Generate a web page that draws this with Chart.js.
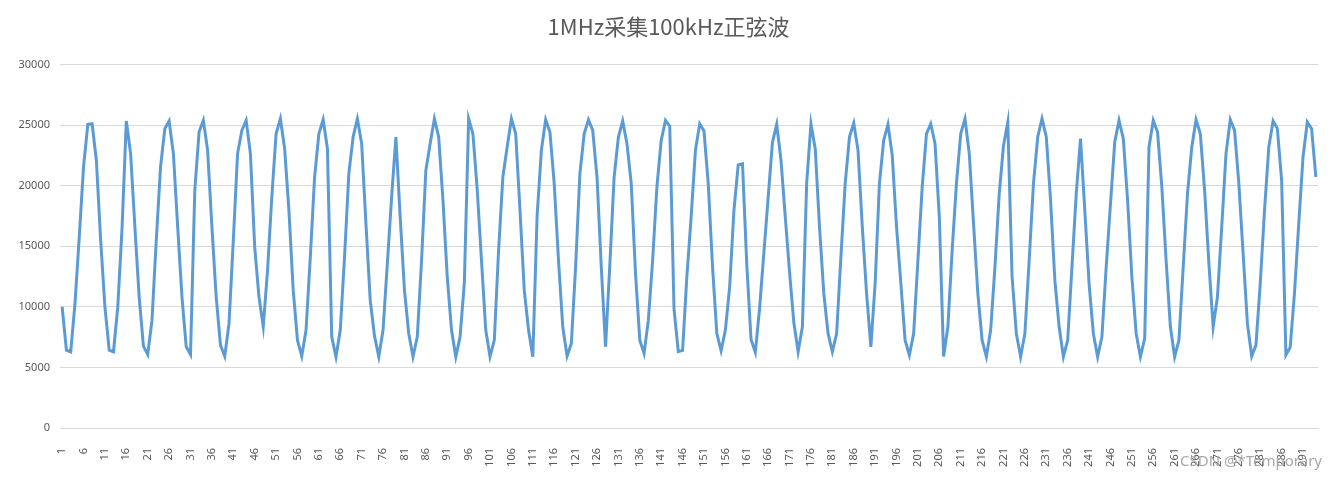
<!DOCTYPE html>
<html>
<head>
<meta charset="utf-8">
<script src="https://cdn.jsdelivr.net/npm/chart.js@4.4.1/dist/chart.umd.min.js"></script>
<style>
  html, body { margin: 0; padding: 0; background: #fff; }
  #wrap { position: relative; width: 1337px; height: 477px; }
  #watermark { position: absolute; right: 15px; top: 450px; font: 15px "Noto Sans", sans-serif; color: #a8a8a8; }
</style>
</head>
<body>
<div id="wrap">
  <canvas id="chart" width="1337" height="477"></canvas>
  <div id="watermark">CSDN @*Temporary</div>
</div>
<script>
// samples
const sampleValues = [
  10000, 6430, 6290, 10270, 15770, 21540, 25050, 25100, 22090, 15490,
  10000, 6430, 6290, 10000, 16500, 25330, 22640, 16590, 10820, 6760,
  6070, 8900, 15490, 21540, 24700, 25330, 22640, 16590, 10820, 6700,
  6070, 19610, 24420, 25380, 22910, 16590, 10820, 6840, 5930, 8630,
  15490, 22640, 24560, 25380, 22640, 14940, 10820, 8350, 13000, 19060,
  24280, 25520, 23050, 17960, 11370, 7250, 5930, 8080, 14120, 20710,
  24280, 25440, 23050, 7530, 5880, 8080, 14120, 20990, 24010, 25520,
  23460, 16870, 10550, 7600, 5880, 8080, 13570, 19060, 24000, 17420,
  11370, 7800, 5880, 7530, 13840, 21260, 23460, 25520, 24010, 18790,
  12470, 8080, 5880, 7530, 12000, 25520, 24280, 19700, 13840, 8080,
  5880, 7250, 14670, 20710, 23180, 25520, 24280, 17960, 11370, 8080,
  5880, 17500, 22910, 25440, 24420, 20160, 13840, 8350, 5930, 6980,
  13300, 20990, 24280, 25440, 24560, 20710, 13300, 6700, 13500, 20710,
  24010, 25330, 23460, 20160, 12750, 7250, 6150, 8900, 13840, 19890,
  23730, 25380, 24900, 9800, 6300, 6400, 12500, 17420, 22910, 25100,
  24500, 20160, 13300, 7800, 6370, 8080, 11650, 17960, 21700, 21800,
  13500, 7300, 6240, 9900, 14470, 19000, 23570, 25050, 22090, 17420,
  12860, 8700, 6290, 8350, 20220, 25100, 23050, 16590, 11100, 7800,
  6290, 7800, 14120, 20160, 24010, 25160, 22910, 16590, 11100, 6700,
  11920, 20160, 23730, 25050, 22500, 16590, 12000, 7250, 6020, 7800,
  13840, 19890, 24280, 25100, 23460, 17420, 5900, 8350, 14670, 20160,
  24280, 25520, 22640, 16870, 11100, 7250, 5880, 8080, 13300, 19340,
  23300, 25240, 12500, 7800, 5880, 7800, 13840, 20160, 24010, 25520,
  24010, 18790, 12200, 8350, 5880, 7250, 13300, 19340, 23870, 17960,
  11920, 7800, 5880, 7530, 13300, 18500, 23600, 25380, 23870, 18790,
  12470, 7800, 5880, 7400, 23180, 25380, 24420, 19890, 13840, 8350,
  5880, 7250, 13300, 19340, 23180, 25440, 24280, 19610, 13570, 8350,
  10820, 16590, 22640, 25440, 24560, 20160, 14400, 8630, 5930, 6840,
  11920, 17960, 23180, 25330, 24700, 20440, 6020, 6650, 11100, 16870,
  22360, 25240, 24700, 20710
];
// sample numbers 1..N on the category axis
const sampleLabels = sampleValues.map((v, i) => String(i + 1));
const yTicks = [0, 5000, 10000, 15000, 20000, 25000, 30000];
const chartTitle = '1MHz采集100kHz正弦波';

const textColor = '#595959';
const gridColor = '#d9d9d9';

const ctx = document.getElementById('chart').getContext('2d');
new Chart(ctx, {
  type: 'line',
  data: {
    labels: sampleLabels,
    datasets: [{
      label: chartTitle,
      data: sampleValues,
      borderColor: '#5b9bd5',
      backgroundColor: '#5b9bd5',
      borderWidth: 3,
      pointRadius: 0,
      tension: 0,
      fill: false
    }]
  },
  options: {
    responsive: false,
    animation: false,
    devicePixelRatio: 1,
    layout: { padding: { left: 19, right: 19, top: 0, bottom: 0 } },
    plugins: {
      legend: { display: false },
      tooltip: { enabled: false },
      title: {
        display: true,
        text: chartTitle,
        color: textColor,
        font: { family: '"Noto Sans CJK SC", sans-serif', size: 22, weight: 'normal' },
        padding: { top: 13, bottom: 25 }
      }
    },
    scales: {
      x: {
        type: 'category',
        offset: true,
        grid: { display: false, drawTicks: false },
        border: { display: true, color: gridColor },
        ticks: {
          autoSkip: false,
          minRotation: 90,
          maxRotation: 90,
          padding: 20,
          color: textColor,
          font: { family: '"Noto Sans", sans-serif', size: 11 },
          callback: (value, index) => (index % 5 === 0 ? sampleLabels[index] : '')
        },
        afterFit: scale => {
          scale.height = 49;
          scale.paddingLeft = 0;
          scale.paddingRight = 0;
        }
      },
      y: {
        min: yTicks[0],
        max: yTicks[yTicks.length - 1],
        grid: { color: gridColor, drawTicks: false },
        border: { display: false },
        ticks: {
          stepSize: yTicks[1] - yTicks[0],
          padding: 10,
          color: textColor,
          font: { family: '"Noto Sans", sans-serif', size: 11 },
          callback: value => String(value)
        },
        afterFit: scale => { scale.width = 41; }
      }
    }
  }
});
</script>
</body>
</html>
